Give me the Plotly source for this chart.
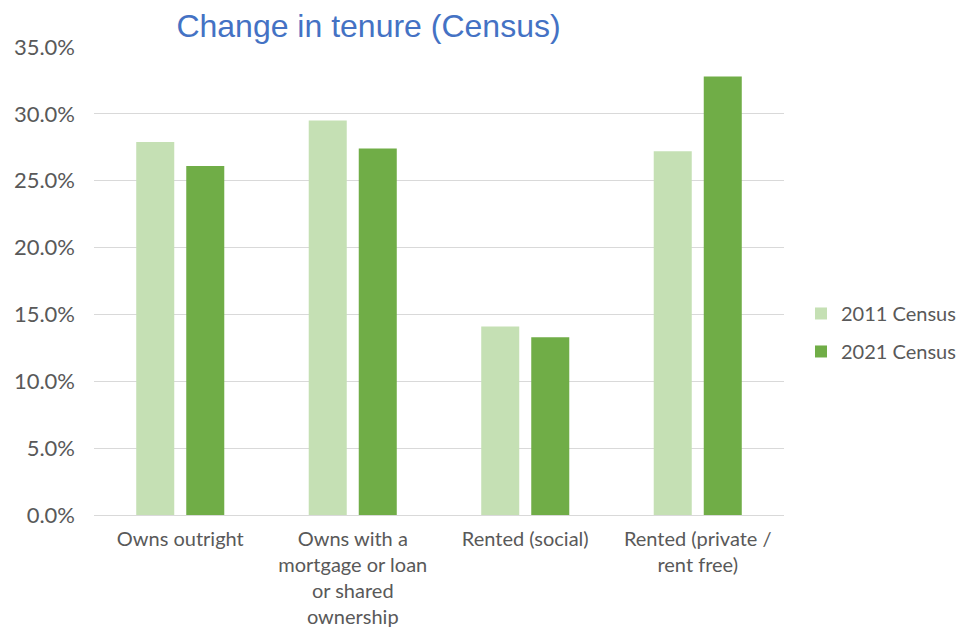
#!/usr/bin/env python3
# -*- coding: utf-8 -*-
"""
Change in tenure (Census) - grouped bar chart
"""

import plotly.graph_objects as go

categories = ['Owns outright',
              'Owns with a<br>mortgage or loan<br>or shared<br>ownership',
              'Rented (social)',
              'Rented (private /<br>rent free)']
census_2011 = [27.9, 29.5, 14.1, 27.2]
census_2021 = [26.1, 27.4, 13.3, 32.8]
y_ticks = [0, 5, 10, 15, 20, 25, 30, 35]

font_family = 'Lato, Carlito, Calibri, sans-serif'
grey = '#595959'

fig = go.Figure()
fig.add_trace(go.Bar(x=categories, y=census_2011, name='2011 Census',
                     legendgroup='a',
                     marker=dict(color='#C5E0B4', line=dict(width=0))))
fig.add_trace(go.Bar(x=categories, y=census_2021, name='2021 Census',
                     legendgroup='b',
                     marker=dict(color='#70AD47', line=dict(width=0))))

fig.update_layout(width=973, height=627,
                  margin=dict(l=86, r=197, t=39, b=120),
                  plot_bgcolor='white',
                  paper_bgcolor='white',
                  barmode='group',
                  bargap=0.42,
                  bargroupgap=0.24,
                  title=dict(text='Change in tenure (Census)',
                             font=dict(family='Liberation Sans, Arial, sans-serif', size=32, color='#4472C4'),
                             x=0.3705, xanchor='center', y=0.971, yanchor='middle'),
                  legend=dict(xref='container', x=0.815, xanchor='left',
                              y=0.39, yanchor='middle',
                              font=dict(family=font_family, size=20, color=grey),
                              tracegroupgap=9, itemwidth=30),
                  font=dict(family=font_family, size=20, color=grey))

fig.update_yaxes(range=[0, 35], tickvals=y_ticks,
                 ticktext=[f'{v:.1f}%' for v in y_ticks],
                 tickfont=dict(size=22),
                 showgrid=True, gridcolor='#D9D9D9', gridwidth=1,
                 zeroline=True, zerolinecolor='#D9D9D9', zerolinewidth=1,
                 showline=False, ticks='', ticklabelstandoff=18,
                 automargin=False)
fig.update_xaxes(showgrid=False, showline=False, ticks='', tickangle=0,
                 ticklabelstandoff=10, automargin=False)

fig.write_html('out.html')
